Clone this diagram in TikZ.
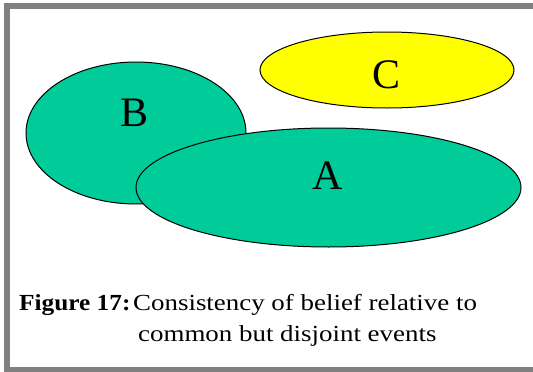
\documentclass[tikz,border=0pt]{standalone}
\usepackage{fontspec}
\setmainfont{Liberation Serif}
\newfontfamily\capfont[FakeStretch=1.17]{Liberation Serif}
\newfontfamily\capboldfont[FakeStretch=1.1]{Liberation Serif Bold}
\usetikzlibrary{shapes.geometric}
\definecolor{setgreen}{RGB}{0,204,153}
\definecolor{setyellow}{RGB}{255,255,0}
\definecolor{framegray}{RGB}{128,128,128}
\tikzset{
  setellipse/.style={ellipse, draw=black, line width=1pt, inner sep=0pt},
  setlabel/.style={inner sep=0pt, font=\fontsize{42}{42}\selectfont},
  captext/.style={inner sep=0pt, anchor=base west, font=\capfont\fontsize{23}{26}\selectfont}
}
\begin{document}
\begin{tikzpicture}[x=1pt,y=-1pt]
\useasboundingbox (0,0) rectangle (533,372);
\clip (0,0) rectangle (533,372);
\fill[white] (0,0) rectangle (533,372);
\draw[framegray, line width=6pt] (7,5.5) rectangle (545,370);
\node[setellipse, fill=setgreen, minimum width=220pt, minimum height=142pt] (B) at (136,133) {};
\node[setellipse, fill=setgreen, minimum width=385pt, minimum height=119pt] (A) at (328.5,187.5) {};
\node[setellipse, fill=setyellow, minimum width=254pt, minimum height=76pt] (C) at (387,70) {};
\node[setlabel] (lB) at (135,113) {B};
\node[setlabel] (lA) at (328,176) {A};
\node[setlabel] (lC) at (387,74.5) {C};
\node[captext, font=\capboldfont\fontsize{23}{26}\selectfont] (fig) at (19,310) {Figure 17:};
\node[captext] (cap1) at (133,310) {Consistency of belief relative to};
\node[captext] (cap2) at (138,341) {common but disjoint events};
\end{tikzpicture}
\end{document}
